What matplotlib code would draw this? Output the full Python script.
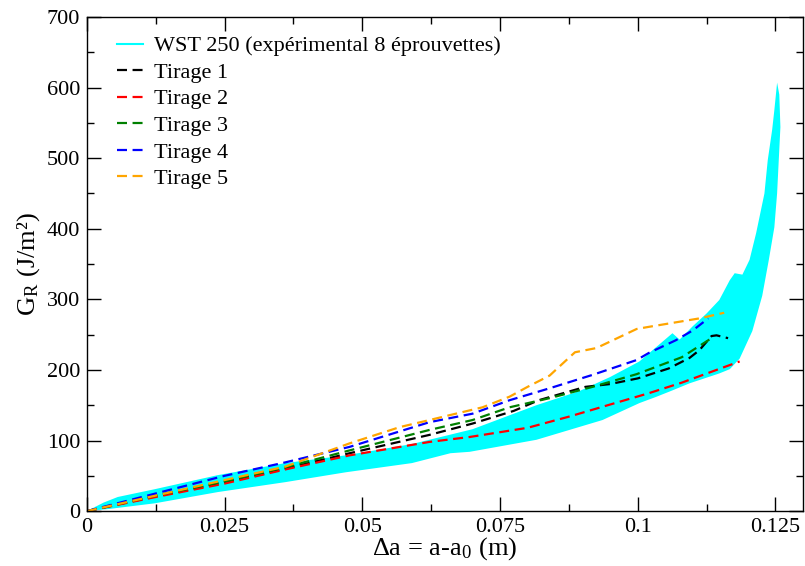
import matplotlib
matplotlib.use("Agg")
import matplotlib.pyplot as plt
from matplotlib.lines import Line2D
from matplotlib.ticker import MultipleLocator, FixedFormatter, FixedLocator

plt.rcParams['font.family'] = ['Liberation Serif', 'DejaVu Serif']
plt.rcParams['mathtext.fontset'] = 'stix'

# Enveloppe expérimentale (WST 250, 8 éprouvettes)
band_x_haut = [0, 0.003, 0.0056, 0.0123, 0.0238, 0.036, 0.047, 0.059, 0.07,
               0.0816, 0.0894, 0.095, 0.1003, 0.1063, 0.1076, 0.110, 0.1125,
               0.1148, 0.1167, 0.1176, 0.119, 0.1203, 0.1215, 0.123, 0.1236,
               0.1244, 0.1248, 0.1253]
band_y_haut = [0, 12, 20, 31, 51, 68, 79, 95, 116,
               150, 170, 190, 212, 252, 243, 262, 280,
               299, 327, 337, 335, 356, 394, 450, 497,
               540, 568, 607]
band_x_bas = [0, 0.004, 0.0123, 0.0238, 0.036, 0.047, 0.059, 0.066, 0.0695,
              0.0816, 0.0936, 0.1003, 0.1034, 0.1063, 0.1094, 0.1148, 0.1167,
              0.1185, 0.1208, 0.1226, 0.1238, 0.1248, 0.1253, 0.1256, 0.1259,
              0.1257]
band_y_bas = [0, 3, 11, 27, 41, 55, 68, 82, 84,
              101, 129, 153, 162, 171, 181, 195, 201,
              216, 255, 305, 356, 402, 450, 497, 544,
              590]

# Tirages numériques
t1_x = [0, 0.0125, 0.025, 0.036, 0.0477, 0.0622, 0.07, 0.0775, 0.082, 0.086,
        0.0905, 0.095, 0.1, 0.1056, 0.1094, 0.1112, 0.1134, 0.1143, 0.1164]
t1_y = [0, 21, 41, 60, 82, 108, 124, 142, 157, 166,
        176, 180, 188, 202, 217, 228, 248, 249, 245]
t2_x = [0, 0.0125, 0.025, 0.036, 0.0477, 0.0622, 0.0695, 0.080, 0.0876,
        0.095, 0.102, 0.108, 0.1143, 0.1185]
t2_y = [0, 20, 39, 59, 79, 98, 105, 118, 134,
        151, 167, 182, 200, 212]
t3_x = [0, 0.0125, 0.025, 0.036, 0.0477, 0.0622, 0.07, 0.0767, 0.084, 0.0918,
        0.0998, 0.108, 0.1134]
t3_y = [0, 22, 42, 62, 86, 115, 129, 147, 160, 176,
        194, 218, 245]
t4_x = [0, 0.0125, 0.025, 0.036, 0.0477, 0.0622, 0.07, 0.0767, 0.084, 0.0918,
        0.0998, 0.102, 0.1069, 0.110, 0.1128]
t4_y = [0, 25, 50, 69, 91, 126, 138, 157, 174, 193,
        214, 224, 242, 256, 273]
t5_x = [0, 0.0125, 0.025, 0.036, 0.0477, 0.0568, 0.0622, 0.0659, 0.0718, 0.0767,
        0.080, 0.084, 0.0865, 0.0886, 0.0925, 0.0998, 0.102, 0.1112, 0.1157]
t5_y = [0, 22, 44, 63, 96, 119, 129, 136, 147, 162,
        176, 192, 210, 225, 231, 258, 261, 273, 281]

tirages = [
    (t1_x, t1_y, 'black', 'Tirage 1'),
    (t2_x, t2_y, 'red', 'Tirage 2'),
    (t3_x, t3_y, 'green', 'Tirage 3'),
    (t4_x, t4_y, 'blue', 'Tirage 4'),
    (t5_x, t5_y, 'orange', 'Tirage 5'),
]

x_ticks = [0, 0.025, 0.05, 0.075, 0.1, 0.125]
x_labels = ['0', '0.025', '0.05', '0.075', '0.1', '0.125']


def generer_grafico():
    fig = plt.figure(figsize=(8.05, 5.66), dpi=100)
    ax = fig.add_axes([0.108, 0.097, 0.8895, 0.873])

    poly_x = band_x_haut + band_x_bas[::-1]
    poly_y = band_y_haut + band_y_bas[::-1]
    ax.fill(poly_x, poly_y, color='#00ffff', lw=0, zorder=1)

    handles = [Line2D([], [], color='#00ffff', lw=1.5,
                      label='WST 250 (expérimental 8 éprouvettes)')]
    for xs, ys, col, lab in tirages:
        ln, = ax.plot(xs, ys, color=col, lw=1.6, dashes=(4.5, 2.5), label=lab, zorder=2)
        handles.append(ln)

    ax.set_xlim(0, 0.13)
    ax.set_ylim(0, 700)
    ax.xaxis.set_major_locator(FixedLocator(x_ticks))
    ax.xaxis.set_major_formatter(FixedFormatter(x_labels))
    ax.xaxis.set_minor_locator(MultipleLocator(0.0125))
    ax.yaxis.set_major_locator(MultipleLocator(100))
    ax.yaxis.set_minor_locator(MultipleLocator(50))
    ax.tick_params(which='both', direction='in', top=True, right=True,
                   labelsize=16, width=1)
    ax.tick_params(which='major', length=10, pad=5)
    ax.tick_params(which='minor', length=5)
    for s in ax.spines.values():
        s.set_linewidth(1)

    ax.set_xlabel(r'Δa = a-a$_\mathregular{0}$ (m)', fontsize=19, labelpad=-1)
    ax.set_ylabel(r'G$_\mathregular{R}$ (J/m²)', fontsize=19, labelpad=3)

    ax.legend(handles=handles, loc='upper left', frameon=False, fontsize=16,
              handlelength=1.15, handletextpad=0.5, labelspacing=0.27,
              borderaxespad=0.0, borderpad=0.0, bbox_to_anchor=(0.042, 0.962))

    fig.savefig('out.png', dpi=100)
    plt.close(fig)


if __name__ == "__main__":
    generer_grafico()
